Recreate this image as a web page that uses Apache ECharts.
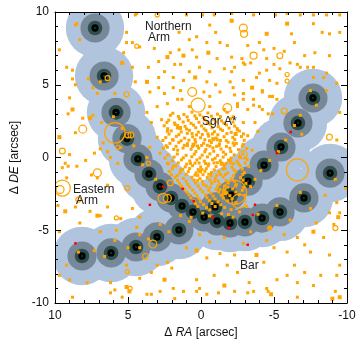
<!DOCTYPE html>
<html>
<head>
<meta charset="utf-8">
<script src="https://cdn.jsdelivr.net/npm/echarts@6/dist/echarts.min.js"></script>
<style>
html,body{margin:0;padding:0;background:#fff}
#chart{width:357px;height:339px}
</style>
</head>
<body>
<div id="chart"></div>
<script>
// Offsets from Sgr A* in arcsec: [dRA, dDE]

// Mask centres along the Northern Arm (top-left, down through the apex, up the west side)
const northernArm = [
  [7.26, 8.90], [6.64, 5.60], [5.82, 3.10], [5.07, 1.30], [4.32, -0.10],
  [3.56, -1.13], [2.81, -2.00], [2.05, -2.78], [1.30, -3.33], [0.55, -3.74],
  [-0.96, -3.40], [-2.05, -2.58], [-3.22, -1.62], [-4.32, -0.52],
  [-5.48, 0.72], [-6.64, 2.37], [-7.67, 4.09]
];

// Mask centres along the Bar
const bar = [
  [-8.84, -1.07], [-7.05, -2.78], [-5.41, -3.74], [-4.18, -4.16],
  [-3.01, -4.43], [-1.99, -4.50], [-1.10, -4.36], [-0.21, -4.09]
];

// Mask centres along the Eastern Arm
const easternArm = [
  [1.51, -4.98], [3.01, -5.46], [4.45, -6.15], [6.16, -6.56], [8.15, -6.77]
];

// Faint point sources
const faintStars = [
  [8.6,9.1],[8.5,9.2],[4.5,9.8],[4.4,9.9],[5.1,8.6],[4.7,7.9],[4.2,7.6],[3.2,7.5],[5.1,7.9],[3.6,6.2],
  [2.9,6.6],[2.3,6.9],[1.8,6.4],[2.1,7.2],[2.5,5.9],[1.9,5.5],[2.9,5.5],[3.7,5.2],[3.5,4.5],[2.9,4.8],
  [2.5,4.4],[1.9,4.8],[1.6,4.0],[2.3,3.7],[3.0,3.5],[3.7,3.1],[4.2,3.8],[3.4,2.4],[2.7,2.6],[2.1,2.9],
  [1.6,2.2],[2.3,1.8],[3.0,1.4],[1.9,1.2],[2.3,0.7],[1.6,0.5],[2.8,0.3],[3.5,0.7],[3.7,0.0],[2.3,-0.4],[1.9,-0.6],
  [9.0,4.1],[8.8,3.3],[9.7,7.4],[9.2,6.2],[8.8,5.4],[8.8,6.0],[8.6,5.0],[7.4,2.9],[6.8,2.4],[7.1,4.4],
  [7.4,4.8],[7.6,2.7],[9.7,1.4],[9.0,0.2],[9.1,-0.6],[6.9,0.6],[6.4,0.4],[6.2,0.0],[5.5,0.7],[5.7,-0.4],
  [8.3,8.1],[7.7,5.4],[5.9,4.4],[4.5,5.2],[4.7,6.2],[5.3,7.2],[5.4,6.5],
  [1.0,9.8],[-0.1,9.8],[-0.9,9.8],[-2.1,9.9],[-3.6,9.8],[-5.1,9.8],[-5.9,9.9],[-6.8,9.8],[-7.7,9.8],[-8.6,9.8],
  [-9.5,9.8],[-0.6,9.1],[-1.0,8.6],[-2.1,9.4],[-5.9,9.2],[-6.2,8.5],[-7.7,9.2],[-8.3,8.6],[-8.8,8.5],
  [-9.5,8.6],[1.5,8.6],[0.8,8.1],[0.3,8.3],[-0.4,7.9],[-1.3,7.9],[-1.8,7.7],[-3.2,7.7],[-4.0,7.9],[-4.3,7.4],
  [-5.0,7.5],[-5.7,7.3],[-6.4,7.9],[-7.1,7.0],[-7.8,7.2],[-8.8,7.0],[1.5,7.4],[0.6,7.4],[0.3,6.9],
  [-1.1,6.8],[-2.1,6.9],[-2.8,6.8],[-3.4,6.5],[-4.5,6.8],[-5.0,6.4],[-6.1,6.5],[-6.8,6.2],[-7.7,6.2],
  [1.4,6.4],[0.8,5.9],[0.1,6.2],[-0.6,5.9],[-1.6,6.1],[-2.1,5.9],[-2.9,6.5],[-4.0,5.8],[-4.7,5.3],[-5.2,5.1],
  [1.2,5.3],[-0.4,5.2],[-1.0,5.0],[-2.0,5.2],[-2.9,5.3],[-4.2,4.6],[-4.7,4.2],[-5.2,4.0],
  [1.4,4.6],[-0.2,4.5],[-0.6,4.2],[-1.3,4.5],[-2.3,4.3],[-2.9,4.0],[1.3,4.0],[0.8,3.5],[-0.6,3.5],[-1.6,3.3],
  [-2.5,3.5],[-3.6,3.6],[-4.2,3.3],[-4.9,3.0],
  [-2.3,6.2],[-3.0,6.4],[-3.8,5.5],[-4.5,6.0],[-5.4,6.1],[-2.2,4.8],[-2.9,4.4],[-3.6,4.0],[-4.2,4.5],[-4.9,4.2],
  [-2.5,3.7],[-3.2,3.3],[-4.0,3.5],[-4.6,3.0],[-2.2,2.8],[-2.9,2.4],[-3.7,2.4],[-2.5,1.9],[-3.2,1.5],[-3.9,1.8],
  [-2.2,1.0],[-2.9,0.9],[-3.5,0.5],[-2.7,0.0],[-2.0,-0.2],[-6.6,6.4],[-7.3,6.2],[-8.6,5.8],
  [-9.5,3.1],[-9.3,1.2],[-9.9,-2.1],[-9.3,-3.1],[-9.5,-3.8],[-7.7,5.5],[-8.4,5.5],[-9.3,5.1],[-8.6,4.6],
  [9.1,3.0],[8.6,1.7],[8.1,2.7],[9.3,-0.4],[8.5,-0.6],[7.5,-1.2],[7.9,-0.2],[7.3,0.3],[6.7,1.0],
  [9.5,-0.7],[9.2,-1.4],[7.1,-1.4],[6.4,-1.9],[9.8,-3.3],[8.6,-3.4],[7.6,-3.7],[6.9,-4.0],[6.4,-3.4],
  [4.7,-3.5],[4.2,-4.1],[5.5,-4.2],[8.3,-4.5],[9.7,-5.1],[6.9,-5.1],[5.8,-5.0],[4.4,-4.8],[9.7,-8.1],[9.0,-8.4],
  [9.2,-7.4],[7.8,-8.6],[6.2,-8.6],[5.9,-9.1],[4.2,-8.3],[3.4,-7.9],[3.0,-7.4],[2.3,-7.2],[2.0,-7.6],[1.9,-9.0],
  [8.4,-6.5],[4.2,-6.2],[5.1,-7.4],[3.4,-9.4],
  [8.8,-9.6],[6.2,-9.3],[5.4,-9.6],[3.7,-9.4],[2.8,-9.2],[1.8,-9.7],[0.3,-9.2],[-0.4,-9.4],[-1.2,-9.3],
  [-2.3,-9.2],[-3.2,-9.3],[-4.6,-9.2],[-6.6,-9.6],[-9.2,-9.2],
  [1.0,-6.2],[-0.4,-6.9],[-1.3,-6.6],[-1.8,-7.4],[-2.3,-6.7],[-4.3,-7.2],[-5.0,-6.2],[-5.9,-6.5],
  [-6.4,-7.4],[-7.1,-6.0],[-8.4,-5.5],[-9.1,-4.6],[-8.8,-3.8],[-7.9,-4.5],[-7.5,-6.5],[-8.8,-6.7],
  [-9.5,-7.4],[-9.3,-8.1],[-8.2,-8.1],[-7.1,-7.9],[-5.9,-8.1],[-5.2,-8.4],[-4.5,-9.0],[-3.3,-8.6],[-2.5,-7.9],
  [-0.9,-8.1],[0.1,-9.0],[0.3,-8.4],[1.2,-9.2],[-3.6,-9.2],[-6.6,-8.6],[-7.7,-8.8],[-0.6,-5.8],[-2.9,-5.9],
  [-4.5,-5.7],[-5.7,-5.3],[-6.6,-5.5],
  [-3.0,-2.6],[-1.3,-2.2],[-3.7,-1.5],[-4.7,-0.2],[-5.8,1.2],[-6.8,2.9],[-7.5,4.6],[1.4,-4.0],[2.8,-4.6],
  [4.2,-5.3],[5.9,-5.7],[7.3,-6.4],[0.1,-5.3],[-1.6,-5.5],[-3.4,-5.1],[-4.7,-4.8],[-6.1,-4.3],[-7.5,-3.5],
  [-8.5,-2.6],[-9.2,-1.5],[-6.4,2.2],[-7.9,3.6],[-6.9,1.6],[-5.3,0.4],[-4.1,-0.9],[-3.4,-2.0],[-2.4,-3.1],
  [-6.8,-2.4],[-5.2,-3.3],[-3.9,-3.9],[-2.2,-4.1],[-0.6,-3.6],[0.8,-4.4],[2.2,-5.1],[3.6,-5.6],[5.0,-6.2],
  [6.6,-6.8],[6.0,2.8],[6.9,5.2],[5.4,2.0],[4.6,0.8],[4.0,-0.5],[3.1,-1.5],
  // central cluster
  [1.93,3.04],[1.17,2.96],[0.62,3.12],[0.08,2.93],[-0.47,3.06],[-1.13,2.98],[-1.79,3.11],
  [2.21,2.57],[1.48,2.66],[0.87,2.55],[0.31,2.68],[-0.22,2.59],[-0.84,2.63],[-1.41,2.52],[-2.03,2.67],
  [2.52,2.18],[1.77,2.26],[1.09,2.14],[0.51,2.23],[-0.04,2.17],[-0.63,2.28],[-1.18,2.12],[-1.74,2.24],[-2.31,2.16],
  [2.04,1.83],[1.36,1.76],[0.79,1.87],[0.18,1.74],[-0.34,1.85],[-0.92,1.77],[-1.48,1.86],[-2.07,1.73],[-2.63,1.82],
  [2.41,1.37],[1.69,1.45],[1.12,1.33],[0.57,1.42],[0.03,1.36],[-0.52,1.47],[-1.04,1.34],[-1.58,1.43],[-2.18,1.38],[-2.77,1.44],
  [2.13,0.97],[1.52,1.04],[0.93,0.95],[0.37,1.06],[-0.18,0.98],[-0.71,1.03],[-1.27,0.94],[-1.86,1.05],[-2.42,0.97],
  [2.58,0.63],[1.87,0.56],[1.23,0.65],[0.68,0.57],[0.16,0.64],[-0.33,0.55],[-0.82,0.66],[-1.37,0.58],[-1.98,0.63],[-2.57,0.54],[-3.13,0.62],
  [2.27,0.17],[1.62,0.24],[1.02,0.15],[0.46,0.23],[-0.08,0.16],[-0.61,0.25],[-1.14,0.14],[-1.69,0.22],[-2.28,0.18],[-2.87,0.24],
  [1.97,-0.23],[1.34,-0.16],[0.77,-0.24],[0.28,-0.17],[-0.23,-0.25],[-0.79,-0.15],[-1.32,-0.22],[-1.88,-0.18],[-2.47,-0.24],[-3.18,-0.16],
  [1.72,-0.57],[1.08,-0.64],[0.58,-0.56],[0.02,-0.65],[-0.49,-0.58],[-1.03,-0.63],[-1.57,-0.55],[-2.12,-0.66],[-2.68,-0.57],[-3.27,-0.63],
  [2.18,-0.96],[1.43,-1.04],[0.87,-0.97],[0.33,-1.05],[-0.27,-0.95],[-0.72,-1.03],[-1.23,-0.98],[-1.82,-1.06],[-2.38,-0.97],[-2.97,-1.04],
  [1.78,-1.37],[1.21,-1.44],[0.63,-1.36],[0.07,-1.45],[-0.43,-1.38],[-0.98,-1.43],[-1.52,-1.35],[-2.07,-1.46],[-2.71,-1.38],
  [1.47,-1.77],[0.92,-1.84],[0.38,-1.76],[-0.17,-1.85],[-0.73,-1.78],[-1.28,-1.83],[-1.87,-1.75],[-2.42,-1.86],[-3.08,-1.78],
  [1.13,-2.17],[0.57,-2.24],[0.04,-2.16],[-0.52,-2.25],[-1.02,-2.18],[-1.63,-2.23],[-2.17,-2.15],[-2.83,-2.26],
  [0.82,-2.57],[0.27,-2.64],[-0.32,-2.56],[-0.83,-2.65],[-1.38,-2.58],[-1.97,-2.63],[-2.61,-2.55],
  [0.48,-2.97],[0.04,-3.05],[-0.57,-2.96],[-1.17,-3.04],[-1.83,-2.98],
  [0.22,-3.36],[-0.38,-3.44],[-0.97,-3.37],[-1.62,-3.43],
  [0.35,0.41],[-0.26,0.39],[-0.87,0.43],[-1.53,0.37],[0.72,-0.41],[0.13,-0.38],[-0.53,-0.44],[-1.12,-0.36],
  [-1.71,-0.42],[0.41,-1.21],[-0.14,-1.18],[-0.69,-1.24],[-1.34,-1.17],[0.93,0.82],[0.24,0.79],[-0.43,0.84],
  [-1.07,0.77],[1.24,-0.81],[-0.06,-0.83],[-1.48,-0.79],[-2.21,-0.42],[-2.04,0.41],[0.61,1.64],[-0.09,1.58],
  [-0.78,1.62],[-1.33,1.17],[-0.26,1.22],[0.83,1.19],[-0.93,-1.63],[-0.36,-1.97],[0.22,-1.58],[-1.61,-1.97],
  [1.55,2.82],[0.95,2.79],[0.42,2.86],[-0.15,2.77],[-0.71,2.84],[-1.33,2.81],
  [2.33,2.41],[1.81,2.37],[1.22,2.44],[0.68,2.35],[0.14,2.42],[-0.43,2.38],[-1.02,2.45],[-1.57,2.36],[-2.19,2.43],
  [2.28,1.98],[1.62,2.03],[0.99,1.96],[0.36,2.05],[-0.21,1.97],[-0.76,2.04],[-1.33,1.95],[-1.92,2.02],[-2.48,1.99],
  [2.19,1.61],[1.52,1.57],[0.94,1.66],[0.31,1.55],[-0.47,1.63],[-1.15,1.56],[-1.77,1.64],[-2.38,1.58],[-2.91,1.62],
  [2.61,1.17],[1.95,1.22],[1.36,1.15],[0.41,1.23],[-0.58,1.15],[-1.12,1.21],[-1.73,1.16],[-2.31,1.24],[-2.96,1.18],
  [2.39,0.81],[1.71,0.77],[1.14,0.84],[0.58,0.76],[-0.04,0.83],[-0.61,0.78],[-1.24,0.82],[-1.74,0.76],[-2.27,0.84],[-2.83,0.79],
  [2.47,-0.04],[1.84,0.03],[1.21,-0.02],[0.63,0.05],[0.07,-0.03],[-0.44,0.04],[-0.97,-0.05],[-1.52,0.03],[-2.06,-0.04],[-2.64,0.05],[-3.05,-0.02],
  [2.23,-0.43],[1.56,-0.37],[0.98,-0.45],[0.41,-0.39],[-0.31,-0.41],[-0.89,-0.37],[-1.46,-0.45],[-2.01,-0.36],[-2.55,-0.42],[-3.02,-0.38],
  [1.97,-0.78],[1.39,-0.84],[0.78,-0.76],[0.19,-0.83],[-0.36,-0.77],[-0.91,-0.85],[-1.63,-0.77],[-2.24,-0.83],[-2.83,-0.79],
  [2.02,-1.18],[1.63,-1.24],[1.02,-1.16],[0.22,-1.23],[-0.53,-1.15],[-1.08,-1.22],[-1.67,-1.17],[-2.24,-1.24],[-2.86,-1.16],
  [1.61,-1.57],[1.02,-1.63],[0.47,-1.55],[-0.08,-1.64],[-0.62,-1.56],[-1.17,-1.62],[-1.73,-1.58],[-2.29,-1.63],[-2.88,-1.56],
  [1.34,-1.97],[0.77,-2.04],[0.19,-1.96],[-0.63,-2.05],[-1.14,-1.97],[-1.83,-2.03],[-2.36,-1.95],[-2.92,-2.04],
  [0.97,-2.38],[0.42,-2.44],[-0.12,-2.36],[-0.68,-2.45],[-1.21,-2.37],[-1.78,-2.43],[-2.39,-2.36],
  [0.68,-2.77],[0.14,-2.84],[-0.41,-2.76],[-0.97,-2.85],[-1.52,-2.78],[-2.13,-2.83],
  [0.37,-3.18],[-0.18,-3.23],[-0.74,-3.16],[-1.36,-3.24],
  [-0.12,-3.82],[-0.58,-4.01],[-1.42,-3.87],[-2.06,-3.58],[0.68,-4.12],[-1.88,-3.92],[-2.63,-3.74],[-3.12,-3.36]
];

// Brighter point sources
const brightStars = [
  [-4.5,8.5],[2.3,6.9],[-0.5,7.2],[1.2,7.0],[-2.1,9.4],[-5.9,9.2],[0.4,5.5],[-3.5,4.8],[3.7,5.2],[5.4,6.5],
  [8.8,3.3],[7.6,2.7],[9.7,1.4],[-9.5,-9.6],[4.9,-9.2],[5.1,-8.9],[-4.8,-9.4],[-9.0,-9.7],[2.5,-8.4],
  [-1.6,-8.8],[-7.7,-5.1],[-3.8,-6.7],[0.3,-6.4],[-0.84,1.26],[0.51,0.88],[-1.41,-0.42],[0.07,-0.95],
  [-2.37,1.62],[1.43,2.03],[-1.65,-2.45],[-9.4,-4.1],[7.1,-4.0],[9.3,-3.7]
];

// Extended sources: [dRA, dDE, radius in arcsec]
const ringStars = [
  [3.0,9.8,0.14],[6.4,5.45,0.17],[5.1,4.35,0.17],[8.1,1.95,0.27],[5.9,1.7,0.7],[5.0,1.55,0.2],[4.8,1.55,0.2],
  [4.4,7.65,0.14],[9.5,0.45,0.2],[3.6,-0.4,0.14],[-2.9,8.9,0.27],[-2.95,8.5,0.24],[-3.6,7.0,0.24],
  [-5.4,7.0,0.2],[-5.9,5.7,0.14],[-5.9,5.25,0.14],[0.6,4.5,0.3],[0.2,3.6,0.48],[-1.8,3.4,0.3],
  [-5.7,3.2,0.2],[-8.8,1.4,0.2],[-6.6,-0.85,0.75],[-2.9,0.2,0.27],[-2.3,-2.4,0.82],[-2.6,-3.0,0.48],
  [9.5,-2.1,0.55],[9.65,-2.2,0.27],[7.1,-1.05,0.27],[8.4,-2.9,0.17],[5.05,-2.1,0.17],[5.8,-4.15,0.14],
  [2.6,-2.8,0.34],[2.3,-2.8,0.27],[3.3,-5.95,0.27],[3.8,-6.8,0.2],[5.05,-7.85,0.14],[4.85,-9.0,0.14],
  [-4.7,-4.85,0.14],[-9.2,-4.85,0.17],[5.7,0.7,0.14],[2.1,-1.75,0.2]
];

// Red sources
const redSources = [
  [8.6,-5.9],[-6.15,1.75],[-5.2,0.3],[-3.7,-3.25],[-3.55,-3.95],[2.6,-2.0],[1.25,-2.15],
  [0.5,-3.0],[-1.9,-4.85],[3.5,-3.25],[-3.2,-6.0],[-0.8,-4.15]
];

const axisRange = [-10, 10];
const tickStep = 5;

const maskCentres = northernArm.concat(bar, easternArm);

function discLayer(centres, radius, color, z) {
  return {
    type: 'custom',
    z: z,
    clip: true,
    silent: true,
    data: centres,
    encode: { x: 0, y: 1 },
    renderItem: function (params, api) {
      const p = [api.value(0), api.value(1)];
      const c = api.coord(p);
      const r = api.size([radius * 2, radius * 2], p)[0] / 2;
      return { type: 'circle', shape: { cx: c[0], cy: c[1], r: r }, style: { fill: color } };
    }
  };
}

const fontFamily = '"Liberation Sans", Arial, sans-serif';
const textColor = '#111';

function makeX(pos, showLabels) {
  return {
    type: 'value', position: pos, min: axisRange[0], max: axisRange[1], interval: tickStep,
    inverse: true, z: 10,
    axisLine: { show: true, onZero: false, lineStyle: { color: '#000', width: 1 } },
    axisTick: { show: true, inside: true, length: 6, lineStyle: { color: '#000' } },
    minorTick: { show: true, splitNumber: 5, length: 3, lineStyle: { color: '#000' } },
    splitLine: { show: false },
    axisLabel: { show: showLabels, margin: 7, color: textColor, fontSize: 12, fontFamily: fontFamily },
    name: showLabels ? '{g|\u0394 }{i|RA}{g| [arcsec]}' : '',
    nameLocation: 'middle', nameGap: 22,
    nameTextStyle: { rich: {
      g: { fontSize: 12, fontFamily: fontFamily, color: textColor },
      i: { fontSize: 12, fontFamily: fontFamily, fontStyle: 'italic', color: textColor }
    } }
  };
}
function makeY(pos, showLabels) {
  return {
    type: 'value', position: pos, min: axisRange[0], max: axisRange[1], interval: tickStep, z: 10,
    axisLine: { show: true, onZero: false, lineStyle: { color: '#000', width: 1 } },
    axisTick: { show: true, inside: true, length: 6, lineStyle: { color: '#000' } },
    minorTick: { show: true, splitNumber: 5, length: 3, lineStyle: { color: '#000' } },
    splitLine: { show: false },
    axisLabel: { show: showLabels, margin: 6, color: textColor, fontSize: 12, fontFamily: fontFamily },
    name: showLabels ? '{g|\u0394 }{i|DE}{g| [arcsec]}' : '',
    nameLocation: 'middle', nameGap: 33, nameRotate: 90,
    nameTextStyle: { rich: {
      g: { fontSize: 12, fontFamily: fontFamily, color: textColor },
      i: { fontSize: 12, fontFamily: fontFamily, fontStyle: 'italic', color: textColor }
    } }
  };
}

const chart = echarts.init(document.getElementById('chart'), null, { renderer: 'canvas' });
chart.setOption({
  animation: false,
  backgroundColor: '#fff',
  grid: { left: 55, right: 10, top: 12, bottom: 36, containLabel: false, outerBoundsMode: 'none' },
  xAxis: [makeX('bottom', true), makeX('top', false)],
  yAxis: [makeY('left', true), makeY('right', false)],
  series: [
    discLayer(maskCentres, 2.0, '#b0c4de', 1),
    discLayer(maskCentres, 1.0, '#778899', 2),
    discLayer(maskCentres, 0.5, '#2f4f4f', 3),
    discLayer(maskCentres, 0.25, '#000000', 4),
    discLayer(maskCentres, 0.05, '#1a8a3a', 5),
    {
      type: 'scatter', z: 6, silent: true, data: faintStars,
      symbol: 'rect', symbolSize: 3, itemStyle: { color: '#ffa500', opacity: 1 }
    },
    {
      type: 'scatter', z: 6, silent: true, data: brightStars,
      symbol: 'rect', symbolSize: 4, itemStyle: { color: '#ffa500', opacity: 1 }
    },
    {
      type: 'custom', z: 7, clip: true, silent: true, data: ringStars,
      encode: { x: 0, y: 1 },
      renderItem: function (params, api) {
        const p = [api.value(0), api.value(1)];
        const c = api.coord(p);
        const r = api.size([api.value(2) * 2, api.value(2) * 2], p)[0] / 2;
        return { type: 'circle', shape: { cx: c[0], cy: c[1], r: r },
                 style: { fill: 'none', stroke: '#ffa500', lineWidth: 1.2 } };
      }
    },
    {
      type: 'scatter', z: 8, silent: true, data: redSources,
      symbol: 'rect', symbolSize: 2.5, itemStyle: { color: '#ff0000', opacity: 1 }
    }
  ],
  graphic: [
    { type: 'text', z: 20, x: 145, y: 27, style: { text: 'Northern', fill: '#222', font: '12px ' + fontFamily, verticalAlign: 'middle' } },
    { type: 'text', z: 20, x: 148, y: 38, style: { text: 'Arm', fill: '#222', font: '12px ' + fontFamily, verticalAlign: 'middle' } },
    { type: 'text', z: 20, x: 202, y: 122, style: { text: 'Sgr A*', fill: '#222', font: '12px ' + fontFamily, verticalAlign: 'middle' } },
    { type: 'text', z: 20, x: 73, y: 190, style: { text: 'Eastern', fill: '#222', font: '12px ' + fontFamily, verticalAlign: 'middle' } },
    { type: 'text', z: 20, x: 76, y: 201, style: { text: 'Arm', fill: '#222', font: '12px ' + fontFamily, verticalAlign: 'middle' } },
    { type: 'text', z: 20, x: 240, y: 266, style: { text: 'Bar', fill: '#222', font: '12px ' + fontFamily, verticalAlign: 'middle' } }
  ]
});
</script>
</body>
</html>
